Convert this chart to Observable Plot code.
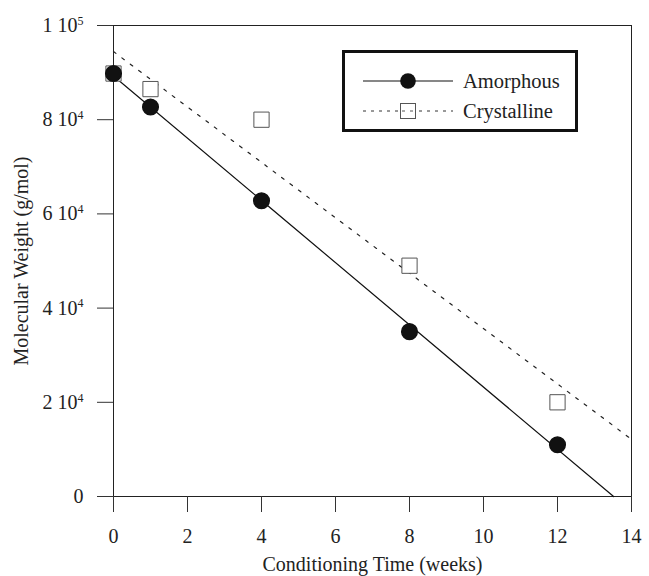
<!DOCTYPE html>
<html><head><meta charset="utf-8">
<script src="https://cdn.jsdelivr.net/npm/d3@7"></script>
<script src="https://cdn.jsdelivr.net/npm/@observablehq/plot@0.6"></script>
<style>
body{margin:0;background:#fff;font-family:"Liberation Serif","Times New Roman",serif;}
#wrap{position:relative;width:649px;height:576px;}
#legend{position:absolute;left:342px;top:50px;width:236px;height:82px;border:3px solid #111;box-sizing:border-box;background:#fff;}
</style></head><body>
<div id="wrap"></div>
<script>
const weeks = [0, 1, 4, 8, 12];
const amorphous = [89800, 82700, 62800, 35000, 11000];
const crystalline = [89800, 86500, 80000, 49000, 20000];
const xTicks = [0, 2, 4, 6, 8, 10, 12, 14];
const yTicks = [0, 20000, 40000, 60000, 80000, 100000];
const seriesNames = ["Amorphous", "Crystalline"];

function fit(xs, ys) {
  const mx = d3.mean(xs), my = d3.mean(ys);
  const sxy = d3.sum(xs, (x, i) => (x - mx) * (ys[i] - my));
  const sxx = d3.sum(xs, x => (x - mx) ** 2);
  const b = sxy / sxx;
  return {a: my - b * mx, b};
}
const fa = fit(weeks, amorphous), fc = fit(weeks, crystalline);
const aEnd = -fa.a / fa.b;
const lineA = [{x: 0, y: fa.a}, {x: aEnd, y: 0}];
const lineC = [{x: 0, y: fc.a}, {x: 14, y: fc.a + fc.b * 14}];
const ptsA = weeks.map((w, i) => ({x: w, y: amorphous[i]}));
const ptsC = weeks.map((w, i) => ({x: w, y: crystalline[i]}));

const plot = Plot.plot({
  width: 649, height: 576,
  marginLeft: 113, marginRight: 18, marginTop: 25, marginBottom: 80,
  style: {fontFamily: '"Liberation Serif", "Times New Roman", serif', fontSize: "20px", color: "#222", background: "#fff"},
  x: {domain: [0, 14]},
  y: {domain: [0, 100000]},
  marks: [
    Plot.frame({stroke: "#222"}),
    Plot.axisX({ticks: xTicks, tickSize: 16, tickPadding: 16, fontSize: 20, label: "Conditioning Time (weeks)", labelAnchor: "center", labelArrow: "none", labelOffset: 74, stroke: "#333"}),
    Plot.axisY({ticks: yTicks, tickSize: 16, tickPadding: 14, fontSize: 20, tickFormat: d => String(d), label: "Molecular Weight (g/mol)", labelAnchor: "center", labelArrow: "none", labelOffset: 100, stroke: "#333"}),
    Plot.line(lineC, {x: "x", y: "y", stroke: "#222", strokeWidth: 1.2, strokeDasharray: "3,7.5"}),
    Plot.line(lineA, {x: "x", y: "y", stroke: "#111", strokeWidth: 1.2}),
    Plot.dot(ptsC, {x: "x", y: "y", symbol: "square", r: 8.6, fill: "#fff", stroke: "#555", strokeWidth: 1}),
    Plot.dot(ptsA, {x: "x", y: "y", r: 7.8, fill: "#111", stroke: "#111"})
  ]
});
document.getElementById("wrap").appendChild(plot);

// format y tick labels as "m 10^e"
d3.select(plot).selectAll('[aria-label="y-axis tick label"] text').each(function() {
  const v = +this.textContent;
  if (v === 0) return;
  const e = Math.floor(Math.log10(v));
  const m = Math.round(v / 10 ** e);
  const t = d3.select(this);
  t.text(null);
  t.append("tspan").text(m + " 10");
  t.append("tspan").attr("dy", "-0.6em").attr("font-size", "12px").text(e);
});

// legend overlay
const leg = document.createElement("div");
leg.id = "legend";
leg.innerHTML = `
<svg width="230" height="76" style="position:absolute;left:0;top:0">
  <line x1="18" x2="108" y1="28" y2="28" stroke="#111" stroke-width="1.2"/>
  <circle cx="63" cy="28" r="7.8" fill="#111"/>
  <line x1="18" x2="108" y1="58" y2="58" stroke="#333" stroke-width="1" stroke-dasharray="3,5"/>
  <rect x="55.5" y="50.5" width="15" height="15" fill="#fff" stroke="#555"/>
  <line x1="57" x2="69" y1="58" y2="58" stroke="#555" stroke-width="1" stroke-dasharray="3,5"/>
  <text x="118" y="35" font-size="20.5" fill="#222" font-family="Liberation Serif, serif">${seriesNames[0]}</text>
  <text x="118" y="65" font-size="20.5" fill="#222" font-family="Liberation Serif, serif">${seriesNames[1]}</text>
</svg>`;
document.getElementById("wrap").appendChild(leg);
</script>
</body></html>
